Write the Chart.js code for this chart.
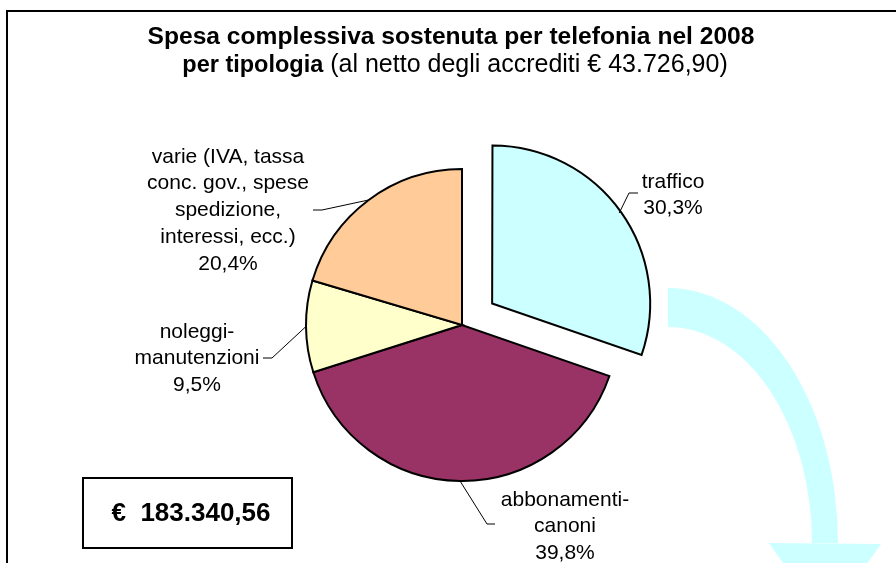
<!DOCTYPE html>
<html>
<head>
<meta charset="utf-8">
<script src="https://cdn.jsdelivr.net/npm/chart.js@4"></script>
<style>
  body { margin: 0; background: #fff; }
  #wrap { width: 896px; height: 563px; }
</style>
</head>
<body>
<div id="wrap"><canvas id="chart"></canvas></div>
<script>
const categories = ['traffico', 'abbonamenti-canoni', 'noleggi-manutenzioni', 'varie'];
const labelLines = [
  ['traffico'],
  ['abbonamenti-', 'canoni'],
  ['noleggi-', 'manutenzioni'],
  ['varie (IVA, tassa', 'conc. gov., spese', 'spedizione,', 'interessi, ecc.)']
];
const shares = [30.3, 39.8, 9.5, 20.4];
const sliceColors = ['#ccffff', '#993366', '#ffffcc', '#ffcc99'];
const titleLine1 = 'Spesa complessiva sostenuta per telefonia nel 2008';
const titleBold = 'per tipologia';
const titleNormal = ' (al netto degli accrediti € 43.726,90)';
const totalText = '€  183.340,56';

const FONT = '"Liberation Sans", Arial, sans-serif';

// leader elbow / end, text centre and first line y, per slice
const labelLayout = [
  { elbow: [629, 193], end: [638, 193], tx: 673, ty: 182 },
  { elbow: [487, 524], end: [495, 524], tx: 565, ty: 500 },
  { elbow: [272, 358], end: [263, 358], tx: 197, ty: 332 },
  { elbow: [322, 210], end: [313, 210], tx: 228, ty: 157 }
];

function pct(v) {
  return v.toFixed(1).replace('.', ',') + '%';
}

const decor = {
  id: 'decor',
  beforeDraw(chart) {
    const c = chart.ctx;
    c.save();
    // frame
    c.strokeStyle = '#000';
    c.lineWidth = 2;
    c.beginPath();
    c.moveTo(7, 563);
    c.lineTo(7, 11);
    c.lineTo(896, 11);
    c.stroke();
    // cyan curved arrow
    c.fillStyle = '#ccffff';
    c.beginPath();
    c.ellipse(668, 543, 170, 255, 0, -Math.PI / 2, 0);
    c.lineTo(812, 543);
    c.ellipse(668, 543, 144, 216, 0, 0, -Math.PI / 2, true);
    c.closePath();
    c.fill();
    c.beginPath();
    c.moveTo(769, 543);
    c.lineTo(881, 544);
    c.lineTo(825, 623);
    c.closePath();
    c.fill();
    c.restore();
  },
  afterDraw(chart) {
    const c = chart.ctx;
    c.save();
    // title
    c.fillStyle = '#000';
    c.textBaseline = 'alphabetic';
    c.textAlign = 'center';
    c.font = 'bold 24.6px ' + FONT;
    c.fillText(titleLine1, 451, 44);
    c.font = 'bold 23.5px ' + FONT;
    const wb = c.measureText(titleBold).width;
    c.font = '25px ' + FONT;
    const wn = c.measureText(titleNormal).width;
    const x0 = 455 - (wb + wn) / 2;
    c.textAlign = 'left';
    c.font = 'bold 23.5px ' + FONT;
    c.fillText(titleBold, x0, 72);
    c.font = '25px ' + FONT;
    c.fillText(titleNormal, x0 + wb, 72);

    // data labels with leader lines
    const meta = chart.getDatasetMeta(0);
    meta.data.forEach((arc, i) => {
      const p = arc.getProps(['x', 'y', 'startAngle', 'endAngle', 'outerRadius']);
      const mid = (p.startAngle + p.endAngle) / 2;
      const off = (arc.options.offset || 0) / 4;
      const r = p.outerRadius + off;
      const sx = p.x + Math.cos(mid) * r;
      const sy = p.y + Math.sin(mid) * r;
      const L = labelLayout[i];
      c.strokeStyle = '#000';
      c.lineWidth = 1;
      c.beginPath();
      c.moveTo(sx, sy);
      c.lineTo(L.elbow[0], L.elbow[1]);
      c.lineTo(L.end[0], L.end[1]);
      c.stroke();
      c.font = '21px ' + FONT;
      c.textAlign = 'center';
      c.textBaseline = 'middle';
      const lines = labelLines[i].concat([pct(shares[i])]);
      lines.forEach((t, k) => c.fillText(t, L.tx, L.ty + k * 26.7));
    });

    // total box
    c.lineWidth = 2;
    c.strokeRect(83, 478, 209, 70);
    c.font = 'bold 26px ' + FONT;
    c.textAlign = 'center';
    c.textBaseline = 'middle';
    c.fillText(totalText, 191, 514);
    c.restore();
  }
};

new Chart(document.getElementById('chart'), {
  type: 'pie',
  data: {
    labels: categories,
    datasets: [{
      data: shares,
      backgroundColor: sliceColors,
      borderColor: '#000',
      borderWidth: 2,
      borderJoinStyle: 'miter',
      radius: 156,
      offset: ctx => ctx.dataIndex === 0 ? 148 : 0
    }]
  },
  options: {
    responsive: true,
    maintainAspectRatio: false,
    animation: false,
    layout: { padding: { left: 28, top: 87, right: 0, bottom: 0 } },
    plugins: {
      legend: { display: false },
      tooltip: { enabled: false },
      title: { display: false }
    }
  },
  plugins: [decor]
});
</script>
</body>
</html>
